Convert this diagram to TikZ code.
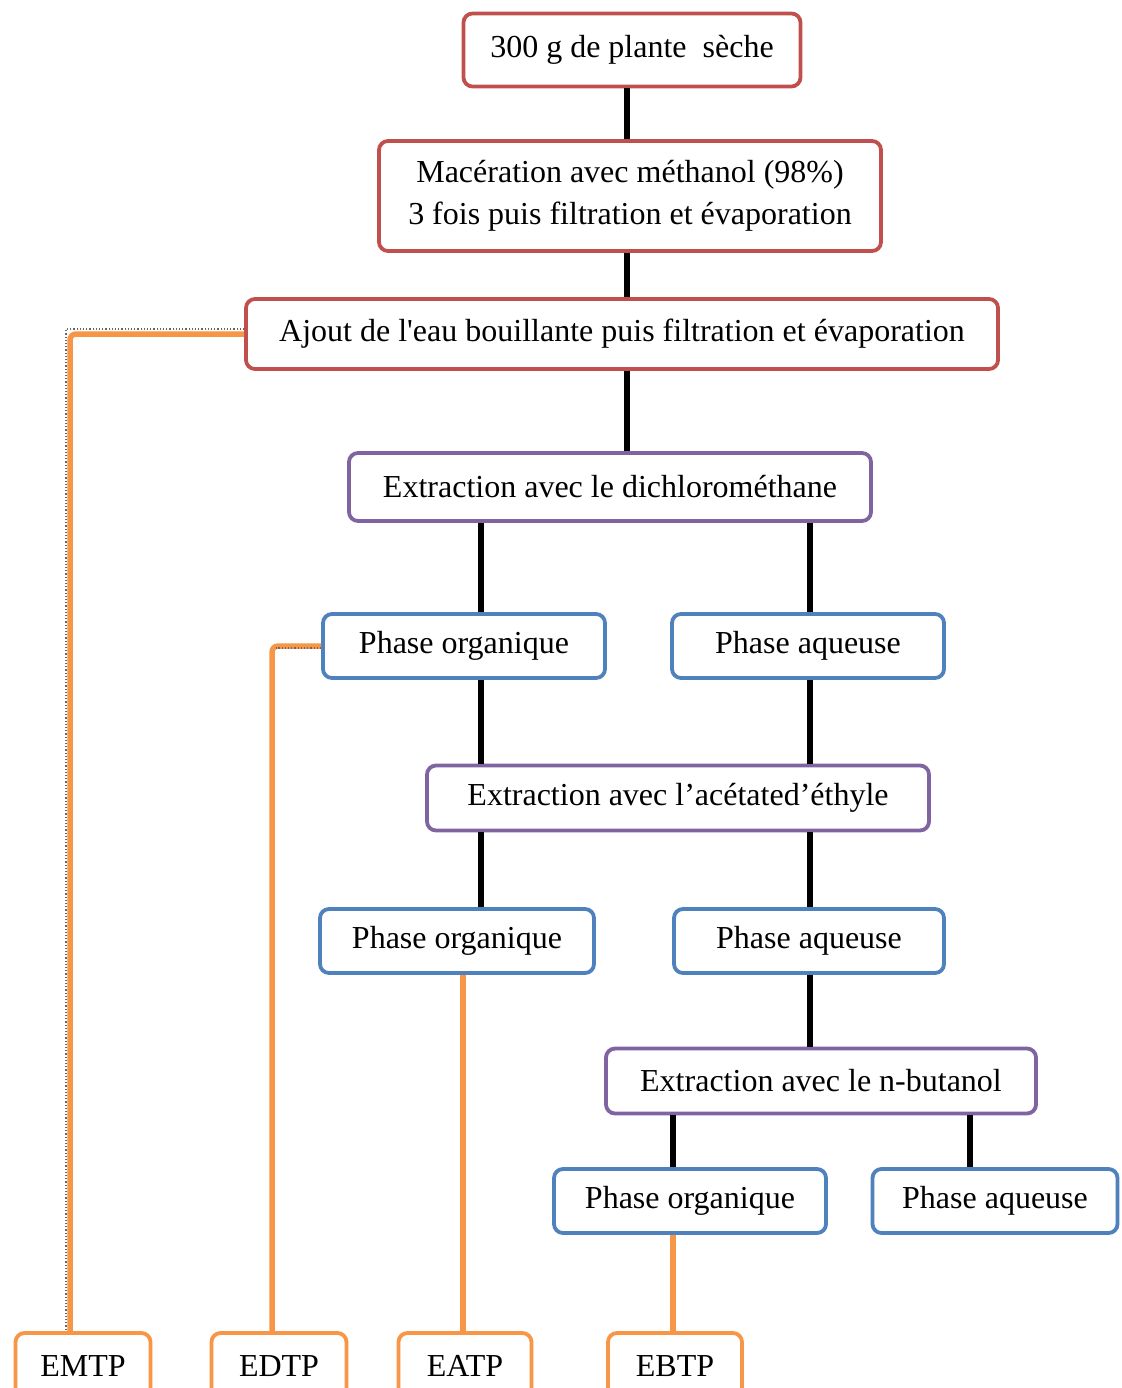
\documentclass[tikz,border=0pt]{standalone}
\usepackage{fontspec}
\setmainfont{Liberation Serif}[Ligatures=TeXOff]
\definecolor{cred}{HTML}{C0504D}
\definecolor{cpurple}{HTML}{8064A2}
\definecolor{cblue}{HTML}{4F81BD}
\definecolor{corange}{HTML}{F79646}
\begin{document}
\begin{tikzpicture}[x=1pt,y=-1pt,
  box/.style={draw, line width=3.8pt, rounded corners=9pt, fill=white, inner sep=0pt,
    font=\fontsize{32}{42}\selectfont, align=center},
  redbox/.style={box, draw=cred},
  purplebox/.style={box, draw=cpurple},
  bluebox/.style={box, draw=cblue},
  orangebox/.style={box, draw=corange},
  conn/.style={line width=6pt, black},
  oconn/.style={line width=5.5pt, corange, rounded corners=6pt},
  dotmark/.style={dotted, line width=1.2pt, black!60}]
\useasboundingbox (0,0) rectangle (1121,1388);
\clip (0,0) rectangle (1121,1388);
\fill[white] (0,0) rectangle (1121,1388);

% coordinates for connector x positions
\coordinate (x627) at (627,0);
\coordinate (x481) at (481,0);
\coordinate (x810) at (810,0);
\coordinate (x673) at (673,0);
\coordinate (x970) at (970,0);
\coordinate (x463) at (463,0);
\coordinate (x70) at (70,0);
\coordinate (x272) at (272,0);

% nodes
\node[redbox, minimum width=337, minimum height=73] (n1) at (632,50) {300 g de plante\ \ sèche};
\node[redbox, minimum width=502, minimum height=110] (n2) at (630,196) {Macération avec méthanol (98\%)\\3 fois puis filtration et évaporation};
\node[redbox, minimum width=752, minimum height=70] (n3) at (622,334) {Ajout de l'eau bouillante puis filtration et évaporation};
\node[purplebox, minimum width=522, minimum height=68] (n4) at (610,487) {Extraction avec le dichlorométhane};
\node[bluebox, minimum width=282, minimum height=64] (po1) at (464,646) {Phase organique};
\node[bluebox, minimum width=272, minimum height=64] (pa1) at (808,646) {Phase aqueuse};
\node[purplebox, minimum width=502, minimum height=65] (n7) at (678,798) {Extraction avec l’acétated’éthyle};
\node[bluebox, minimum width=274, minimum height=64] (po2) at (457,941) {Phase organique};
\node[bluebox, minimum width=270, minimum height=64] (pa2) at (809,941) {Phase aqueuse};
\node[purplebox, minimum width=430, minimum height=65] (n10) at (821,1081) {Extraction avec le n-butanol};
\node[bluebox, minimum width=272, minimum height=64] (po3) at (690,1201) {Phase organique};
\node[bluebox, minimum width=245, minimum height=64] (pa3) at (995,1201) {Phase aqueuse};
\node[orangebox, minimum width=135, minimum height=66] (e1) at (83,1366) {EMTP};
\node[orangebox, minimum width=135, minimum height=66] (e2) at (279,1366) {EDTP};
\node[orangebox, minimum width=133, minimum height=66] (e3) at (465,1366) {EATP};
\node[orangebox, minimum width=134, minimum height=66] (e4) at (675,1366) {EBTP};

% black connectors
\draw[conn] (n1.south -| x627) -- (n2.north -| x627);
\draw[conn] (n2.south -| x627) -- (n3.north -| x627);
\draw[conn] (n3.south -| x627) -- (n4.north -| x627);
\draw[conn] (n4.south -| x481) -- (po1.north -| x481);
\draw[conn] (n4.south -| x810) -- (pa1.north -| x810);
\draw[conn] (po1.south -| x481) -- (n7.north -| x481);
\draw[conn] (pa1.south -| x810) -- (n7.north -| x810);
\draw[conn] (n7.south -| x481) -- (po2.north -| x481);
\draw[conn] (n7.south -| x810) -- (pa2.north -| x810);
\draw[conn] (pa2.south -| x810) -- (n10.north -| x810);
\draw[conn] (n10.south -| x673) -- (po3.north -| x673);
\draw[conn] (n10.south -| x970) -- (pa3.north -| x970);

% orange connectors
\draw[oconn] (n3.west) -| (x70 |- e1.north);
\draw[oconn] (po1.west) -| (x272 |- e2.north);
\draw[oconn] (po2.south -| x463) -- (x463 |- e3.north);
\draw[oconn] (po3.south -| x673) -- (x673 |- e4.north);

% faint dotted marks beside the orange lines
\draw[dotmark] ([yshift=5pt]n3.west) -- ([xshift=-4pt,yshift=5pt]n3.west -| x70) -- ([xshift=-4pt]x70 |- e1.north);
\draw[dotmark] ([yshift=-2pt]po1.west) -- ([xshift=4pt,yshift=-2pt]po1.west -| x272);
\end{tikzpicture}
\end{document}
